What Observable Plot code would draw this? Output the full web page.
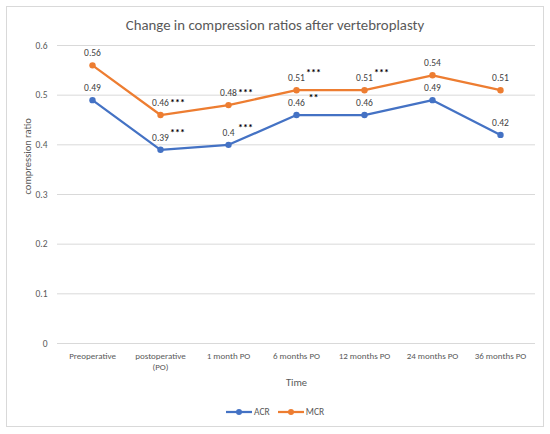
<!DOCTYPE html>
<html><head><meta charset="utf-8">
<script src="https://cdn.jsdelivr.net/npm/d3@7"></script>
<script src="https://cdn.jsdelivr.net/npm/@observablehq/plot@0.6"></script>
<style>
body{margin:0;background:#fff;font-family:Carlito,Lato,sans-serif}
#wrap{position:relative;width:550px;height:434px;overflow:hidden;background:#fff}
#frame{position:absolute;left:6px;top:6px;width:538px;height:421px;border:1px solid #d9d9d9;box-sizing:border-box}
#title{position:absolute;left:0;width:550px;top:15px;text-align:center;font-size:14.8px;color:#595959;line-height:20px}
#chart{position:absolute;left:0;top:35px}
#legend{position:absolute;left:0;width:550px;top:404px;text-align:center;font-size:9.5px;color:#595959;line-height:14px}
#legend span.item{display:inline-block;margin:0 4px;vertical-align:middle}
#legend svg{vertical-align:middle}
</style></head>
<body>
<div id="wrap">
  <div id="frame"></div>
  <div id="title">Change in compression ratios after vertebroplasty</div>
  <div id="chart"></div>
  <div id="legend"></div>
</div>
<script>
const times = ["Preoperative","postoperative (PO)","1 month PO","6 months PO","12 months PO","24 months PO","36 months PO"];
const seriesNames = ["ACR","MCR"];
const acr = [0.49,0.39,0.40,0.46,0.46,0.49,0.42];
const mcr = [0.56,0.46,0.48,0.51,0.51,0.54,0.51];
const colors = ["#4472C4","#ED7D31"];
const yTicks = [0,0.1,0.2,0.3,0.4,0.5,0.6];
// significance markers
const starTime = ["postoperative (PO)","postoperative (PO)","1 month PO","1 month PO","6 months PO","6 months PO","12 months PO"];
const starSeries = ["MCR","ACR","MCR","ACR","MCR","ACR","MCR"];
const starText = ["***","***","***","***","***","**","***"];
const starRaised = [false,true,false,true,true,true,true];

const data = [];
times.forEach((t,i)=>{
  data.push({time:t, series:"ACR", value:acr[i]});
  data.push({time:t, series:"MCR", value:mcr[i]});
});
const valueOf = (t,s) => (s==="ACR"?acr:mcr)[times.indexOf(t)];
const stars = starTime.map((t,i)=>({time:t, series:starSeries[i], value:valueOf(t,starSeries[i]), text:starText[i], raised:starRaised[i]}));

const chart = Plot.plot({
  width:550, height:360,
  marginTop:10, marginBottom:52, marginLeft:57, marginRight:15,
  style:{fontFamily:"Carlito, Lato, sans-serif", background:"transparent"},
  x:{type:"point", domain:times, padding:0.5},
  y:{domain:[0,0.6]},
  color:{domain:seriesNames, range:colors},
  marks:[
    Plot.gridY(yTicks,{stroke:"#d9d9d9", strokeOpacity:1, strokeWidth:1}),
    Plot.axisY(yTicks,{tickSize:0, tickPadding:10, fontSize:9.5, fill:"#595959", label:null, tickFormat:d=>d===0?"0":d.toFixed(1)}),
    Plot.axisX({tickSize:0, tickPadding:8, fontSize:9, lineHeight:1.2, fill:"#595959", label:null, tickFormat:d=>d.replace(" (PO)","\n(PO)")}),
    Plot.text(["Time"],{frameAnchor:"bottom", dy:42, fontSize:10.5, fill:"#595959"}),
    Plot.text(["compression ratio"],{frameAnchor:"left", rotate:-90, dx:-30, fontSize:10.5, fill:"#595959"}),
    Plot.line(data,{x:"time", y:"value", stroke:"series", strokeWidth:2.25, z:"series"}),
    Plot.dot(data,{x:"time", y:"value", fill:"series", r:3.2}),
    Plot.text(data,{x:"time", y:"value", text:d=>String(d.value), dy:-12, fontSize:9.5, fill:"#404040"}),
    Plot.text(stars.filter(d=>!d.raised),{x:"time", y:"value", text:"text", dx:17, dy:-12, fontSize:10, fontWeight:"bold", fill:"#000"}),
    Plot.text(stars.filter(d=>d.raised),{x:"time", y:"value", text:"text", dx:17, dy:-17, fontSize:10, fontWeight:"bold", fill:"#000"})
  ]
});
document.getElementById("chart").appendChild(chart);

const legend = document.getElementById("legend");
seriesNames.forEach((s,i)=>{
  const span = document.createElement("span");
  span.className="item";
  span.innerHTML = `<svg width="26" height="8"><line x1="0" y1="4" x2="26" y2="4" stroke="${colors[i]}" stroke-width="2.25"/><circle cx="13" cy="4" r="3" fill="${colors[i]}"/></svg> ${s}`;
  legend.appendChild(span);
});
</script>
</body></html>
